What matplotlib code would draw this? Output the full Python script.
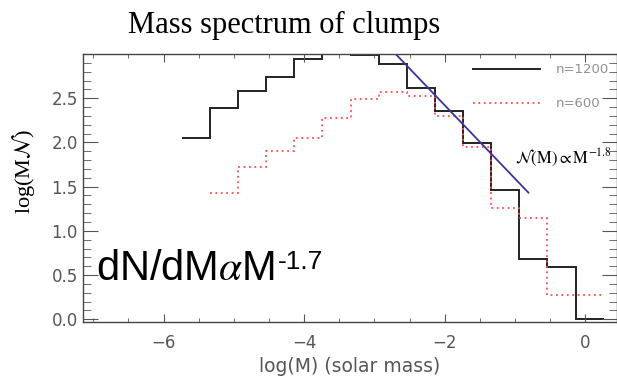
import numpy as np
import matplotlib.pyplot as plt
from matplotlib.ticker import MultipleLocator

plt.rcParams['mathtext.fontset'] = 'stix'

# log(M) bin edges, 0.4 dex wide
bin_edges = [-5.74, -5.34, -4.94, -4.54, -4.14, -3.74, -3.34, -2.94,
             -2.54, -2.14, -1.74, -1.34, -0.94, -0.54, -0.14, 0.26]

# log(M N) per bin
n1200 = [2.05, 2.39, 2.58, 2.74, 2.94, 3.08, 2.99, 2.89,
         2.62, 2.35, 1.99, 1.46, 0.68, 0.59, 0.0]
n600 = [1.43, 1.72, 1.90, 2.05, 2.28, 2.49, 2.57,
        2.53, 2.30, 1.95, 1.26, 1.14, 0.28, 0.28]

# power-law fit, N(M) ~ M^-1.8
fit_slope = -0.83
fit_intercept = 0.76
fit_range = [-2.75, -0.81]

y_ticks = [0.0, 0.5, 1.0, 1.5, 2.0, 2.5]

grey = '#555555'

fig = plt.figure(figsize=(6.17, 3.80), dpi=100)
ax = fig.add_axes([82.7 / 617, 58.3 / 380, 534.3 / 617, 267.7 / 380])

ax.stairs(n1200, bin_edges, baseline=None, color='#222222', lw=1.4, label='n=1200')
ax.stairs(n600, bin_edges[1:], baseline=None, color='#ff4b4b', lw=1.3,
          linestyle=(0, (1, 2)), label='n=600')

fx = np.array(fit_range)
ax.plot(fx, fit_intercept + fit_slope * fx, color='#3b3494', lw=1.3)

ax.set_xlim(-7.15, 0.45)
ax.set_ylim(-0.027, 3.0)
ax.xaxis.set_major_locator(MultipleLocator(2))
ax.xaxis.set_minor_locator(MultipleLocator(0.5))
ax.set_yticks(y_ticks)
ax.yaxis.set_minor_locator(MultipleLocator(0.1))
ax.yaxis.set_major_formatter('{x:.1f}')
ax.tick_params(axis='both', which='both', direction='in', top=True, right=True,
               color=grey, labelcolor=grey, labelsize=12)
ax.tick_params(axis='x', which='major', length=6, pad=9)
ax.tick_params(axis='x', which='minor', length=3)
ax.tick_params(axis='y', which='major', length=11, pad=3.5)
ax.tick_params(axis='y', which='minor', length=6)
for s in ax.spines.values():
    s.set_color('#444444')
    s.set_linewidth(1.0)

ax.set_xlabel('log(M) (solar mass)', fontsize=13.5, color=grey)
ax.xaxis.set_label_coords(0.5, -0.13)
ax.set_ylabel(r'log(M$\mathcal{N}$)', fontsize=16, fontfamily='Liberation Serif')
ax.yaxis.set_label_coords(-0.085, 0.56)

ax.legend(loc='upper left', bbox_to_anchor=(0.7305, 0.965), frameon=False,
          borderpad=0, borderaxespad=0, handlelength=5.1, handletextpad=1.2,
          labelspacing=1.6, fontsize=9.5, labelcolor='#909090')

ax.text(-1.0, 1.82, r'$\mathcal{N}\mathrm{(M)}\propto\mathrm{M}^{-1.8}$',
        fontsize=12, va='center', ha='left')

t = ax.text(-6.956, 0.445, r'dN/dM$\alpha$M', fontsize=30,
            fontfamily='Liberation Sans', va='baseline', ha='left')
ax.annotate('-1.7', xy=(1, 1), xycoords=t, xytext=(2, -1),
            textcoords='offset points', va='top', ha='left',
            fontsize=19, fontfamily='Liberation Sans')

fig.text(284 / 617, 1 - 33 / 380, 'Mass spectrum of clumps', ha='center',
         va='baseline', fontsize=22, fontfamily='Liberation Serif')

fig.savefig('out.png', dpi=100)
